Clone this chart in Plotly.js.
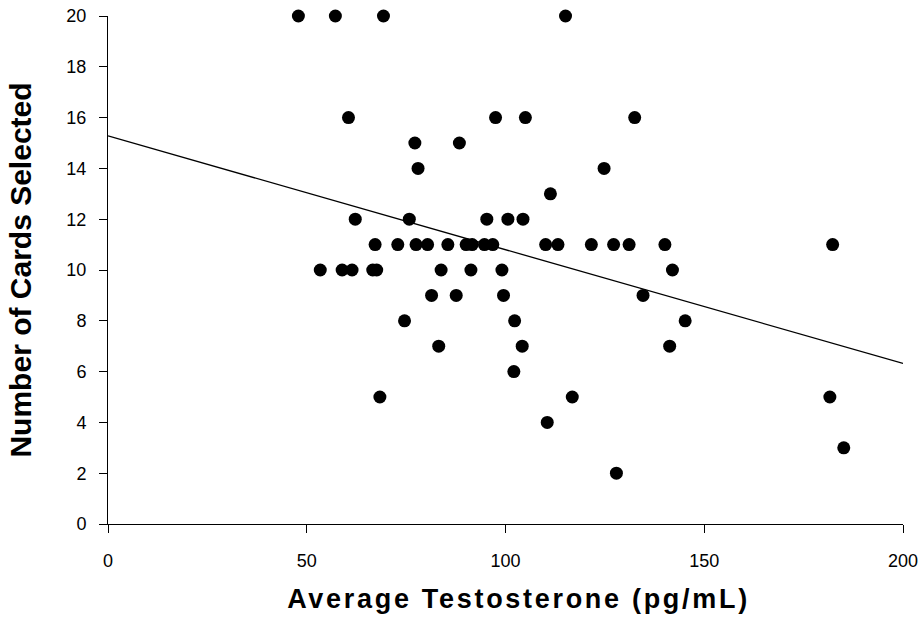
<!DOCTYPE html>
<html>
<head>
<meta charset="utf-8">
<script src="https://cdn.plot.ly/plotly-3.0.1.min.js"></script>
<style>
  html, body { margin: 0; padding: 0; background: #fff; }
  #chart { width: 922px; height: 619px; }
  .xtitle { letter-spacing: 2.7px; transform: translate(13px, 0px); }
</style>
</head>
<body>
<div id="chart"></div>
<script>
// Average testosterone (pg/mL) per subject
const testosterone = [
  47.9, 57.2, 69.3, 115.1,
  60.5, 97.5, 105.0, 132.5,
  77.2, 88.4,
  78.0, 124.8,
  111.3,
  62.2, 75.8, 95.3, 100.6, 104.4,
  67.2, 72.9, 77.5, 80.4, 85.5, 90.1, 91.6, 94.7, 96.8, 110.1, 113.2, 121.6, 127.2, 131.1, 140.1, 182.3,
  53.4, 58.9, 61.4, 66.6, 67.6, 83.8, 91.3, 99.1, 142.0,
  81.4, 87.6, 99.5, 134.6,
  74.6, 102.3, 145.2,
  83.2, 104.2, 141.3,
  102.1,
  68.4, 116.8, 181.6,
  110.5,
  185.1,
  127.9
];
// Number of cards selected per subject
const cardsSelected = [
  20, 20, 20, 20,
  16, 16, 16, 16,
  15, 15,
  14, 14,
  13,
  12, 12, 12, 12, 12,
  11, 11, 11, 11, 11, 11, 11, 11, 11, 11, 11, 11, 11, 11, 11, 11,
  10, 10, 10, 10, 10, 10, 10, 10, 10,
  9, 9, 9, 9,
  8, 8, 8,
  7, 7, 7,
  6,
  5, 5, 5,
  4,
  3,
  2
];
// Linear trendline end points
const trendX = [0, 200];
const trendY = [15.28, 6.32];
// Tick values
const xTicks = [0, 50, 100, 150, 200];
const yTicks = [0, 2, 4, 6, 8, 10, 12, 14, 16, 18, 20];

const font = 'Liberation Sans, Arial, sans-serif';

const traces = [
  {
    x: trendX, y: trendY, type: 'scatter', mode: 'lines',
    line: { color: '#000', width: 1.3 }, hoverinfo: 'skip', cliponaxis: false
  },
  {
    x: testosterone, y: cardsSelected, type: 'scatter', mode: 'markers',
    marker: { color: '#000', size: 13, line: { width: 0 } }, cliponaxis: false
  }
];

const layout = {
  width: 922, height: 619,
  margin: { l: 108, r: 19, t: 16, b: 95 },
  paper_bgcolor: '#fff', plot_bgcolor: '#fff',
  showlegend: false,
  font: { family: font, color: '#000' },
  xaxis: {
    range: [0, 200], tickvals: xTicks, ticktext: xTicks.map(String),
    showgrid: false, zeroline: false, showline: true, linecolor: '#000', linewidth: 1,
    ticks: 'outside', ticklen: 8, tickcolor: '#000', tickwidth: 1,
    tickfont: { family: font, size: 18, color: '#000' },
    ticklabelstandoff: 12,
    title: { text: 'Average Testosterone (pg/mL)', font: { family: font, size: 27, weight: 'bold', color: '#000' }, standoff: 19 }
  },
  yaxis: {
    range: [0, 20], tickvals: yTicks, ticktext: yTicks.map(String),
    showgrid: false, zeroline: false, showline: true, linecolor: '#000', linewidth: 1,
    ticks: 'outside', ticklen: 8, tickcolor: '#000', tickwidth: 1,
    tickfont: { family: font, size: 18, color: '#000' },
    ticklabelstandoff: 9,
    title: { text: 'Number of Cards Selected', font: { family: font, size: 30, weight: 'bold', color: '#000' }, standoff: 25 }
  }
};

Plotly.newPlot('chart', traces, layout, { displayModeBar: false, staticPlot: true });
</script>
</body>
</html>
